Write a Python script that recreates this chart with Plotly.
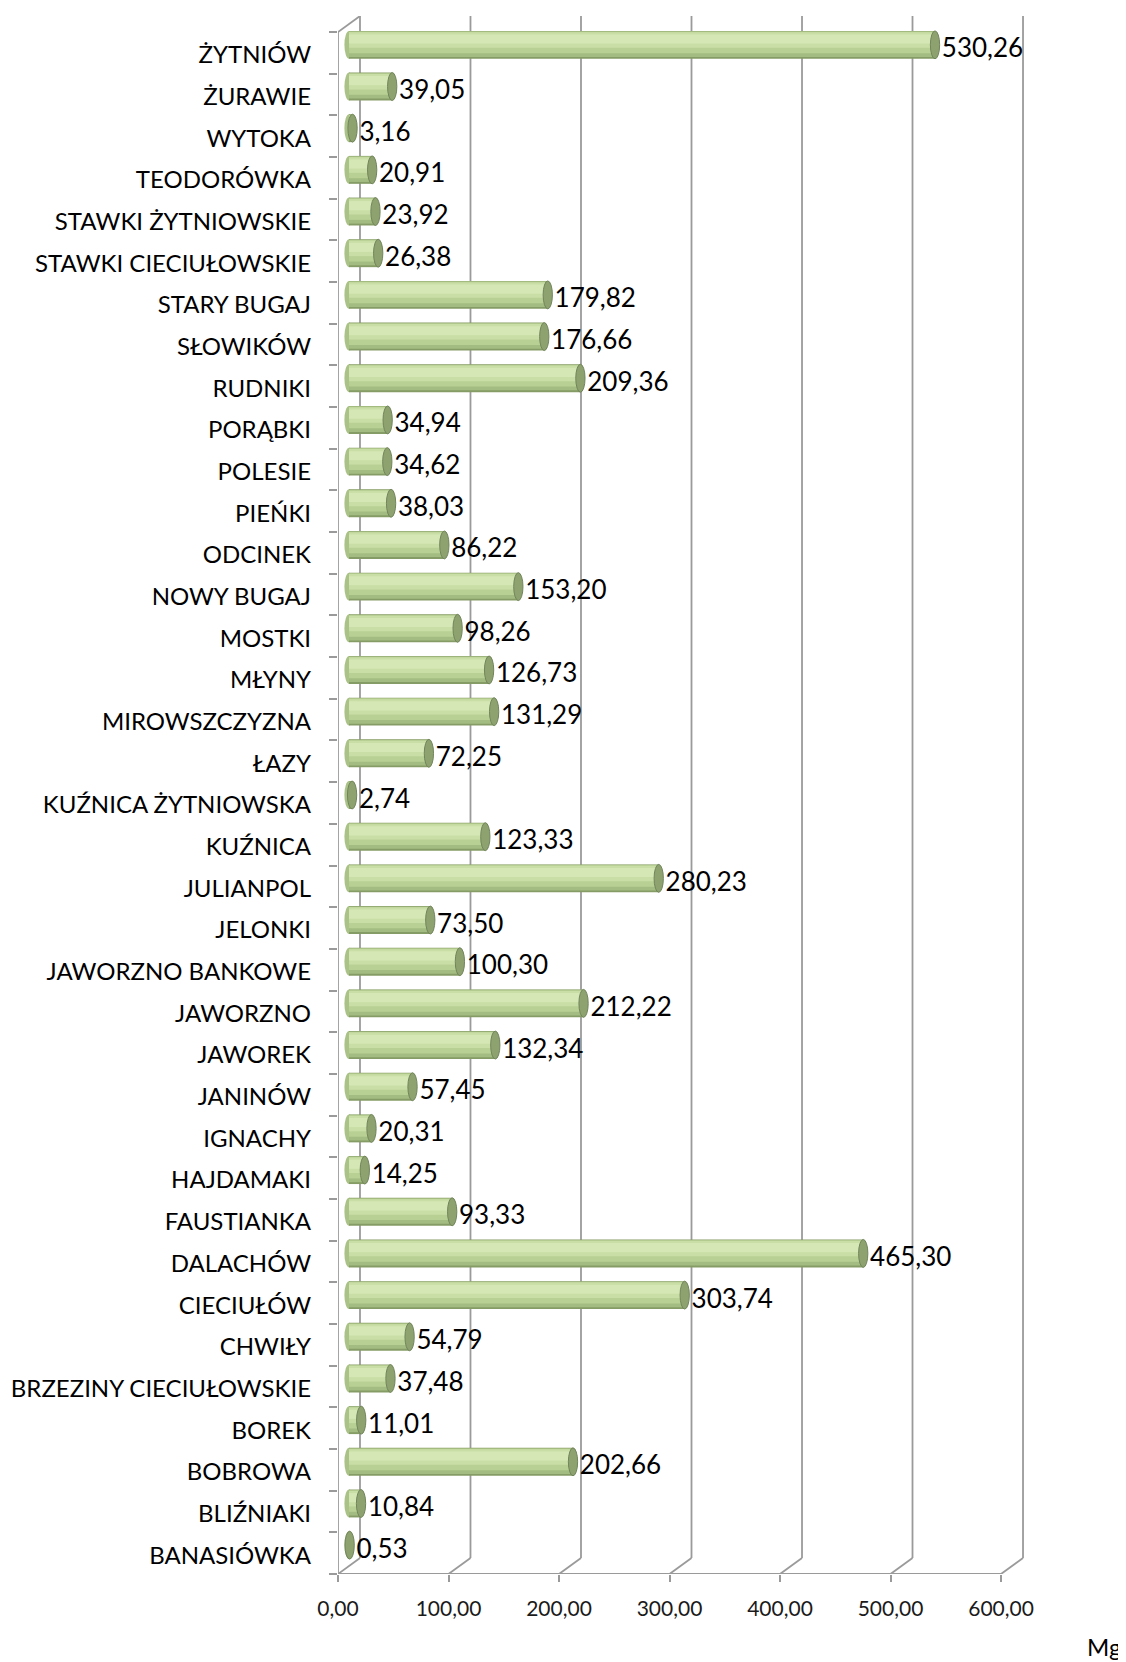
import plotly.graph_objects as go

# ---------------- data ----------------
categories = [
    "BANASIÓWKA", "BLIŹNIAKI", "BOBROWA", "BOREK", "BRZEZINY CIECIUŁOWSKIE",
    "CHWIŁY", "CIECIUŁÓW", "DALACHÓW", "FAUSTIANKA", "HAJDAMAKI", "IGNACHY",
    "JANINÓW", "JAWOREK", "JAWORZNO", "JAWORZNO BANKOWE", "JELONKI",
    "JULIANPOL", "KUŹNICA", "KUŹNICA ŻYTNIOWSKA", "ŁAZY", "MIROWSZCZYZNA",
    "MŁYNY", "MOSTKI", "NOWY BUGAJ", "ODCINEK", "PIEŃKI", "POLESIE",
    "PORĄBKI", "RUDNIKI", "SŁOWIKÓW", "STARY BUGAJ", "STAWKI CIECIUŁOWSKIE",
    "STAWKI ŻYTNIOWSKIE", "TEODORÓWKA", "WYTOKA", "ŻURAWIE", "ŻYTNIÓW",
]
values = [
    0.53, 10.84, 202.66, 11.01, 37.48,
    54.79, 303.74, 465.30, 93.33, 14.25, 20.31,
    57.45, 132.34, 212.22, 100.30, 73.50,
    280.23, 123.33, 2.74, 72.25, 131.29,
    126.73, 98.26, 153.20, 86.22, 38.03, 34.62,
    34.94, 209.36, 176.66, 179.82, 26.38,
    23.92, 20.91, 3.16, 39.05, 530.26,
]
xticks = [0, 100, 200, 300, 400, 500, 600]
unit_label = "Mg"

# ---------------- geometry (axis units) ----------------
N = len(categories)
PXU_Y = 41.68           # pixels per category slot
XR = 622.6              # front-axis range end
DXB, DXM = 19.9, 10.0   # back wall / bar plane shift (x units)
YT = N - 0.5 + 16 / PXU_Y       # front-axis range top
DYB, DYM = 16 / PXU_Y, 8 / PXU_Y  # back wall / bar plane shift (y units)
DYL = 6 / PXU_Y         # data labels sit a little below bar centre
DYC = 2 / PXU_Y         # category labels nudge down
BW = 0.67               # bar thickness
RX = 4.2                # cap half width in x units
LABEL_GAP = 2.0         # gap between cap and data label (x units)

FONT = "Lato, 'Open Sans', sans-serif"
GRID = "#9a9a9a"

labels = [f"{v:.2f}".replace(".", ",") for v in values]

fig = go.Figure()

# invisible traces to populate front category axes
for ya in ("y2", "y4"):
    fig.add_trace(go.Scatter(x=[0] * N, y=categories, mode="markers",
                             marker=dict(opacity=0), hoverinfo="skip",
                             showlegend=False, xaxis="x2", yaxis=ya))

# cylinder bodies as stacked bands (bottom -> top offsets)
bands = [
    (-0.335, 0.670, "#869c66"),
    (-0.290, 0.615, "#a3bc81"),
    (-0.200, 0.515, "#b9d094"),
    (-0.070, 0.370, "#c9dea6"),
    (0.030, 0.220, "#d4e7b5"),
]
for off, w, col in bands:
    fig.add_trace(go.Bar(
        x=values, y=categories, orientation="h",
        width=w, offset=off, marker=dict(color=col, line=dict(width=0)),
        hoverinfo="skip", showlegend=False, xaxis="x", yaxis="y",
    ))

# data labels
fig.add_trace(go.Scatter(
    x=[v + RX + LABEL_GAP for v in values], y=categories, mode="text",
    text=labels, textposition="middle right",
    textfont=dict(family=FONT, size=26, color="#000000"),
    hoverinfo="skip", showlegend=False, xaxis="x", yaxis="y3",
))

shapes = []
line_style = dict(color=GRID, width=1.8)
# back wall gridlines and floor diagonals
for v in xticks:
    shapes.append(dict(type="line", xref="x2", yref="y2", layer="below",
                       x0=v + DXB, x1=v + DXB, y0=-0.5 + DYB, y1=N - 0.5 + DYB,
                       line=line_style))
    shapes.append(dict(type="line", xref="x2", yref="y2", layer="below",
                       x0=v, x1=v + DXB, y0=-0.5, y1=-0.5 + DYB,
                       line=line_style))
# front floor edge
shapes.append(dict(type="line", xref="x2", yref="y2", layer="below",
                   x0=xticks[0], x1=xticks[-1], y0=-0.5, y1=-0.5, line=line_style))
# front left edge
shapes.append(dict(type="line", xref="x2", yref="y2", layer="below",
                   x0=0, x1=0, y0=-0.5, y1=N - 0.5, line=line_style))
# top-left diagonal
shapes.append(dict(type="line", xref="x2", yref="y2", layer="below",
                   x0=0, x1=DXB, y0=N - 0.5, y1=N - 0.5 + DYB, line=line_style))

# rounded starts and end caps of cylinders
for i, v in enumerate(values):
    shapes.append(dict(type="circle", xref="x", yref="y", layer="below",
                       x0=-RX, x1=RX, y0=i - BW / 2, y1=i + BW / 2,
                       fillcolor="#aac287", line=dict(width=0)))
for i, v in enumerate(values):
    shapes.append(dict(type="circle", xref="x", yref="y", layer="above",
                       x0=v - RX, x1=v + RX, y0=i - BW / 2, y1=i + BW / 2,
                       fillcolor="#8ea270", line=dict(color="#71855a", width=1)))

cat_common = dict(type="category", categoryorder="array", categoryarray=categories,
                  showgrid=False, zeroline=False, showline=False, automargin=False)

fig.update_layout(
    width=1126, height=1662,
    margin=dict(l=330, r=108, t=8, b=96, autoexpand=False),
    paper_bgcolor="white", plot_bgcolor="white",
    barmode="overlay", separators=", ",
    showlegend=False,
    shapes=shapes,
    xaxis=dict(range=[-DXM, XR - DXM], visible=False, fixedrange=True,
               automargin=False),
    yaxis=dict(range=[-0.5 - DYM, YT - DYM], visible=False, **cat_common),
    yaxis3=dict(overlaying="y", range=[-0.5 - DYM + DYL, YT - DYM + DYL],
                visible=False, **cat_common),
    xaxis2=dict(overlaying="x", anchor="y2", range=[0, XR],
                tickvals=xticks, tickformat=".2f",
                ticks="outside", ticklen=7, tickwidth=1.8, tickcolor=GRID,
                ticklabelstandoff=9, automargin=False,
                showgrid=False, zeroline=False, showline=False,
                tickfont=dict(family=FONT, size=21, color="#1a1a1a")),
    yaxis2=dict(overlaying="y", anchor="x2", range=[-0.5, YT],
                tickson="boundaries", showticklabels=False,
                ticks="outside", ticklen=8, tickwidth=1.8, tickcolor=GRID,
                **cat_common),
    yaxis4=dict(overlaying="y", anchor="x2", range=[-0.5 + DYC, YT + DYC],
                ticks="", ticklabelstandoff=26,
                tickfont=dict(family=FONT, size=24, color="#000000"),
                **cat_common),
    annotations=[dict(text=unit_label, xref="paper", yref="paper",
                      x=1.1134, y=-0.0465, xanchor="center", yanchor="middle",
                      showarrow=False,
                      font=dict(family=FONT, size=24, color="#000000"))],
)

fig.write_html("out.html")
